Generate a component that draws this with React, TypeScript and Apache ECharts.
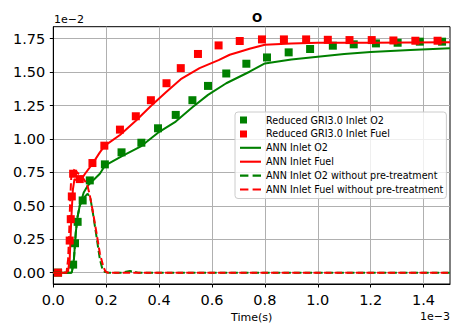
import React, { useEffect, useRef } from "react";
import * as echarts from "echarts";

// Axis ticks (x in units of 1e-3 s, y in units of 1e-2)
const xTicks = [0, 0.2, 0.4, 0.6, 0.8, 1.0, 1.2, 1.4];
const yTicks = [0, 0.25, 0.5, 0.75, 1.0, 1.25, 1.5, 1.75];

const legendNames = [
  "Reduced GRI3.0 Inlet O2",
  "Reduced GRI3.0 Inlet Fuel",
  "ANN Inlet O2",
  "ANN Inlet Fuel",
  "ANN Inlet O2 without pre-treatment",
  "ANN Inlet Fuel without pre-treatment",
];

// Reduced GRI3.0 Inlet O2 (markers)
const griO2Time = [0.018, 0.075, 0.082, 0.092, 0.111, 0.138, 0.195, 0.258, 0.333, 0.396, 0.463, 0.526, 0.585, 0.654, 0.73, 0.808, 0.89, 0.971, 1.057, 1.136, 1.22, 1.302, 1.386, 1.47];
const griO2Value = [0, 0.06, 0.22, 0.38, 0.54, 0.69, 0.81, 0.9, 0.972, 1.08, 1.18, 1.29, 1.397, 1.49, 1.563, 1.61, 1.648, 1.673, 1.698, 1.708, 1.715, 1.72, 1.728, 1.728];

// Reduced GRI3.0 Inlet Fuel (markers)
const griFuelTime = [0.018, 0.062, 0.066, 0.07, 0.075, 0.1, 0.148, 0.193, 0.252, 0.312, 0.369, 0.428, 0.482, 0.547, 0.625, 0.705, 0.789, 0.872, 0.956, 1.038, 1.12, 1.204, 1.286, 1.369, 1.453];
const griFuelValue = [0, 0.24, 0.4, 0.57, 0.74, 0.7, 0.82, 0.95, 1.07, 1.17, 1.29, 1.417, 1.53, 1.636, 1.7, 1.733, 1.745, 1.745, 1.745, 1.742, 1.74, 1.74, 1.737, 1.735, 1.735];

// ANN Inlet O2
const annO2Time = [0, 0.07, 0.078, 0.085, 0.092, 0.1, 0.115, 0.13, 0.15, 0.176, 0.195, 0.258, 0.333, 0.396, 0.463, 0.526, 0.585, 0.654, 0.742, 0.8, 0.9, 1.0, 1.1, 1.2, 1.35, 1.5];
const annO2Value = [0, 0, 0.1, 0.3, 0.42, 0.5, 0.6, 0.65, 0.69, 0.74, 0.8, 0.87, 0.947, 1.047, 1.13, 1.237, 1.33, 1.417, 1.503, 1.565, 1.595, 1.616, 1.635, 1.65, 1.665, 1.678];

// ANN Inlet Fuel
const annFuelTime = [0, 0.055, 0.062, 0.068, 0.074, 0.08, 0.09, 0.1, 0.12, 0.15, 0.176, 0.195, 0.252, 0.312, 0.369, 0.428, 0.482, 0.553, 0.625, 0.667, 0.705, 0.742, 0.8, 0.9, 1.0, 1.2, 1.5];
const annFuelValue = [0, 0, 0.1, 0.4, 0.62, 0.7, 0.69, 0.68, 0.74, 0.82, 0.9, 0.95, 1.03, 1.137, 1.247, 1.354, 1.447, 1.53, 1.59, 1.63, 1.653, 1.675, 1.705, 1.715, 1.72, 1.72, 1.723];

// ANN Inlet O2 without pre-treatment
const rawO2Time = [0, 0.07, 0.078, 0.085, 0.092, 0.1, 0.115, 0.13, 0.14, 0.151, 0.164, 0.176, 0.186, 0.195, 0.21, 0.26, 0.29, 0.32, 1.5];
const rawO2Value = [0, 0, 0.1, 0.3, 0.42, 0.5, 0.56, 0.59, 0.56, 0.43, 0.26, 0.1, 0.025, 0.005, 0, 0, 0.012, 0, 0];

// ANN Inlet Fuel without pre-treatment
const rawFuelTime = [0, 0.05, 0.056, 0.06, 0.064, 0.068, 0.075, 0.085, 0.1, 0.113, 0.128, 0.138, 0.151, 0.164, 0.176, 0.189, 0.197, 0.205, 1.5];
const rawFuelValue = [0, 0, 0.1, 0.3, 0.55, 0.72, 0.77, 0.76, 0.73, 0.705, 0.66, 0.58, 0.44, 0.29, 0.145, 0.045, 0.01, 0, 0];

const zip = (xs: number[], ys: number[]) => xs.map((x, i) => [x, ys[i]]);

const FONT = "DejaVu Sans";
const GREEN = "#008000";
const RED = "#ff0000";

export default function App() {
  const ref = useRef<HTMLDivElement>(null);
  useEffect(() => {
    document.body.style.margin = "0";
    const chart = echarts.init(ref.current!, null, { renderer: "svg" });
    const squareIcon = "path://M0,1.5h7v7h-7zM21,0L21,10";
    const solidIcon = "path://M0,0h20v2h-20z";
    const dashIcon = "path://M0,0h8v2h-8zM12,0h8v2h-8z";
    chart.setOption({
      animation: false,
      backgroundColor: "#ffffff",
      textStyle: { fontFamily: FONT },
      title: {
        text: "O",
        left: 252,
        top: 7,
        textAlign: "center",
        textStyle: { fontFamily: FONT, fontSize: 12, fontWeight: "bold", color: "#000" },
      },
      graphic: [
        {
          type: "text",
          left: 54,
          top: 14,
          style: { text: "1e\u22122", fontFamily: FONT, fontSize: 11, fill: "#000" },
        },
        {
          type: "text",
          right: 1,
          top: 311,
          style: { text: "1e\u22123", fontFamily: FONT, fontSize: 11, fill: "#000" },
        },
      ],
      grid: {
        left: 53.3,
        right: 1,
        top: 26.7,
        bottom: 39,
        show: true,
        borderColor: "#000",
        borderWidth: 1,
        backgroundColor: "transparent",
        containLabel: false,
        outerBoundsMode: "none",
      },
      legend: {
        orient: "vertical",
        left: 235,
        top: 112,
        padding: [3, 3, 4, 5],
        itemWidth: 21,
        itemHeight: 10,
        itemGap: 3.9,
        backgroundColor: "rgba(255,255,255,0.8)",
        borderColor: "#cccccc",
        borderWidth: 1,
        borderRadius: 3,
        textStyle: { fontFamily: FONT, fontSize: 9.6, color: "#000" },
        data: [
          { name: legendNames[0], icon: squareIcon },
          { name: legendNames[1], icon: squareIcon },
          { name: legendNames[2], icon: solidIcon },
          { name: legendNames[3], icon: solidIcon },
          { name: legendNames[4], icon: dashIcon },
          { name: legendNames[5], icon: dashIcon },
        ],
      },
      xAxis: {
        type: "value",
        min: 0,
        max: 1.5,
        name: "Time(s)",
        nameLocation: "middle",
        nameGap: 27,
        nameTextStyle: { fontFamily: FONT, fontSize: 11, color: "#000" },
        axisLine: { show: true, onZero: false, lineStyle: { color: "#000", width: 1 } },
        axisTick: { show: true, inside: false, length: 3.5, customValues: xTicks, lineStyle: { color: "#000" } },
        axisLabel: {
          customValues: xTicks,
          margin: 8,
          fontFamily: FONT,
          fontSize: 14.5,
          color: "#000",
          formatter: (v: number) => v.toFixed(1),
        },
        splitLine: { show: true, lineStyle: { color: "#b0b0b0", width: 1 } },
      },
      yAxis: {
        type: "value",
        min: -0.085,
        max: 1.84,
        axisLine: { show: true, onZero: false, lineStyle: { color: "#000", width: 1 } },
        axisTick: { show: true, inside: false, length: 3.5, customValues: yTicks, lineStyle: { color: "#000" } },
        axisLabel: {
          customValues: yTicks,
          margin: 8,
          fontFamily: FONT,
          fontSize: 14.5,
          color: "#000",
          formatter: (v: number) => v.toFixed(2),
        },
        splitLine: { show: true, lineStyle: { color: "#b0b0b0", width: 1 } },
      },
      series: [
        {
          name: legendNames[0],
          type: "scatter",
          symbol: "rect",
          symbolSize: 8,
          itemStyle: { color: GREEN, opacity: 1 },
          data: zip(griO2Time, griO2Value),
        },
        {
          name: legendNames[1],
          type: "scatter",
          symbol: "rect",
          symbolSize: 8,
          itemStyle: { color: RED, opacity: 1 },
          data: zip(griFuelTime, griFuelValue),
        },
        {
          name: legendNames[2],
          type: "line",
          symbol: "none",
          showSymbol: false,
          color: GREEN,
          itemStyle: { color: GREEN, borderWidth: 0 },
          lineStyle: { color: GREEN, width: 2 },
          data: zip(annO2Time, annO2Value),
        },
        {
          name: legendNames[3],
          type: "line",
          symbol: "none",
          showSymbol: false,
          color: RED,
          itemStyle: { color: RED, borderWidth: 0 },
          lineStyle: { color: RED, width: 2 },
          data: zip(annFuelTime, annFuelValue),
        },
        {
          name: legendNames[4],
          type: "line",
          symbol: "none",
          showSymbol: false,
          color: GREEN,
          itemStyle: { color: GREEN, borderWidth: 0 },
          lineStyle: { color: GREEN, width: 2, type: [7.4, 3.2] },
          data: zip(rawO2Time, rawO2Value),
        },
        {
          name: legendNames[5],
          type: "line",
          symbol: "none",
          showSymbol: false,
          color: RED,
          itemStyle: { color: RED, borderWidth: 0 },
          lineStyle: { color: RED, width: 2, type: [7.4, 3.2] },
          data: zip(rawFuelTime, rawFuelValue),
        },
      ],
    });
    return () => chart.dispose();
  }, []);
  return <div ref={ref} style={{ width: 451, height: 323 }} />;
}
